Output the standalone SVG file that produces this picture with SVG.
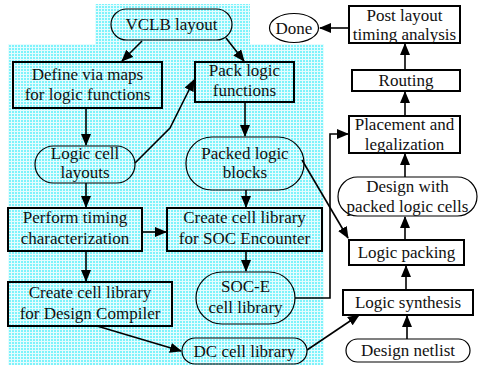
<svg xmlns="http://www.w3.org/2000/svg" width="484" height="366" viewBox="0 0 484 366">
<defs>
<pattern id="dots" width="3" height="3" patternUnits="userSpaceOnUse">
<rect width="3" height="3" fill="#7ef3fb"/>
<rect x="2" width="1" height="3" fill="#e6fcfe"/>
<rect y="2" width="3" height="1" fill="#e6fcfe"/>
</pattern>
<marker id="ah" markerWidth="12" markerHeight="10" refX="11" refY="5" orient="auto" markerUnits="userSpaceOnUse">
<path d="M0,0 L12,5 L0,10 Z" fill="#000"/>
</marker>
<style>
.box{fill:none;stroke:#000;stroke-width:2}
.st{fill:none;stroke:#000;stroke-width:1.2}
.c{fill:none;stroke:#000;stroke-width:1.6;marker-end:url(#ah)}
text{font-family:Times New Roman,Liberation Serif,Tinos,DejaVu Serif,serif;font-size:17px;fill:#111;text-anchor:middle}
</style>
</defs>
<rect width="484" height="366" fill="#fff"/>
<polygon points="95,4 250,4 250,44 324,44 324,365 8,365 8,44 95,44" fill="url(#dots)"/>

<g id="connectors">
<line class="c" x1="142" y1="41" x2="122" y2="61"/>
<line class="c" x1="226" y1="38" x2="244" y2="61"/>
<line class="c" x1="86" y1="108" x2="86" y2="145"/>
<polyline class="c" points="135,163 170,128 194,80"/>
<line class="c" x1="245" y1="102" x2="245" y2="136"/>
<line class="c" x1="86" y1="183" x2="86" y2="207"/>
<line class="c" x1="142" y1="232" x2="166" y2="232"/>
<line class="c" x1="246" y1="190" x2="246" y2="207"/>
<line class="c" x1="86" y1="251" x2="86" y2="281"/>
<line class="c" x1="246" y1="251" x2="246" y2="271"/>
<line class="c" x1="97" y1="326" x2="181" y2="351"/>
<line class="c" x1="307" y1="350" x2="359" y2="315"/>
<polyline class="c" points="295,298 330,298 330,134 348,134"/>
<line class="c" x1="302" y1="160" x2="348" y2="238"/>
<line class="c" x1="349" y1="28" x2="320" y2="28"/>
<line class="c" x1="405" y1="70" x2="405" y2="44"/>
<line class="c" x1="405" y1="116" x2="405" y2="92"/>
<line class="c" x1="405" y1="177" x2="405" y2="154"/>
<line class="c" x1="405" y1="240" x2="405" y2="217"/>
<line class="c" x1="406" y1="290" x2="406" y2="266"/>
<line class="c" x1="407" y1="339" x2="407" y2="316"/>
</g>

<g id="vclb"><rect class="st" x="111" y="9" width="121" height="31" rx="15.5"/><text x="171.5" y="30">VCLB layout</text></g>
<g id="define"><rect class="box" x="13" y="62" width="149" height="46"/><text x="87.5" y="80">Define via maps</text><text x="87.5" y="100">for logic functions</text></g>
<g id="pack"><rect class="box" x="195" y="62" width="99" height="40"/><text x="244.5" y="76">Pack logic</text><text x="244.5" y="96">functions</text></g>
<g id="lcl"><rect class="st" x="35" y="146" width="100" height="37" rx="18.5"/><text x="85" y="159">Logic cell</text><text x="85" y="178">layouts</text></g>
<g id="plb"><rect class="st" x="186" y="137" width="118" height="53" rx="26"/><text x="245" y="159">Packed logic</text><text x="245" y="178">blocks</text></g>
<g id="ptc"><rect class="box" x="8" y="208" width="134" height="43"/><text x="75" y="223">Perform timing</text><text x="75" y="244">characterization</text></g>
<g id="csoc"><rect class="box" x="167" y="208" width="155" height="43"/><text x="244.5" y="223">Create cell library</text><text x="244.5" y="244">for SOC Encounter</text></g>
<g id="soce"><rect class="st" x="196" y="272" width="99" height="52" rx="26"/><text x="245.5" y="292">SOC-E</text><text x="245.5" y="313">cell library</text></g>
<g id="cdc"><rect class="box" x="8" y="282" width="164" height="44"/><text x="90" y="298">Create cell library</text><text x="90" y="319">for Design Compiler</text></g>
<g id="dc"><rect class="st" x="182" y="338" width="125" height="26" rx="13"/><text x="244.5" y="357">DC cell library</text></g>

<g id="done"><ellipse class="st" cx="294" cy="28" rx="24.5" ry="14.5"/><text x="294" y="34">Done</text></g>
<g id="post"><rect class="box" x="349" y="6" width="111" height="37"/><text x="404.5" y="21">Post layout</text><text x="404.5" y="40">timing analysis</text></g>
<g id="routing"><rect class="box" x="352" y="70" width="108" height="21"/><text x="406" y="86">Routing</text></g>
<g id="place"><rect class="box" x="349" y="116" width="111" height="37"/><text x="404.5" y="130">Placement and</text><text x="404.5" y="150">legalization</text></g>
<g id="dwp"><rect class="st" x="338" y="177" width="139" height="39" rx="19.5"/><text x="407.5" y="192">Design with</text><text x="407.5" y="212">packed logic cells</text></g>
<g id="lp"><rect class="box" x="349" y="240" width="115" height="25"/><text x="406.5" y="258">Logic packing</text></g>
<g id="ls"><rect class="box" x="343" y="290" width="130" height="25"/><text x="408" y="308">Logic synthesis</text></g>
<g id="dn"><rect class="st" x="346" y="339" width="124" height="23" rx="11.5"/><text x="408" y="356">Design netlist</text></g>
</svg>
